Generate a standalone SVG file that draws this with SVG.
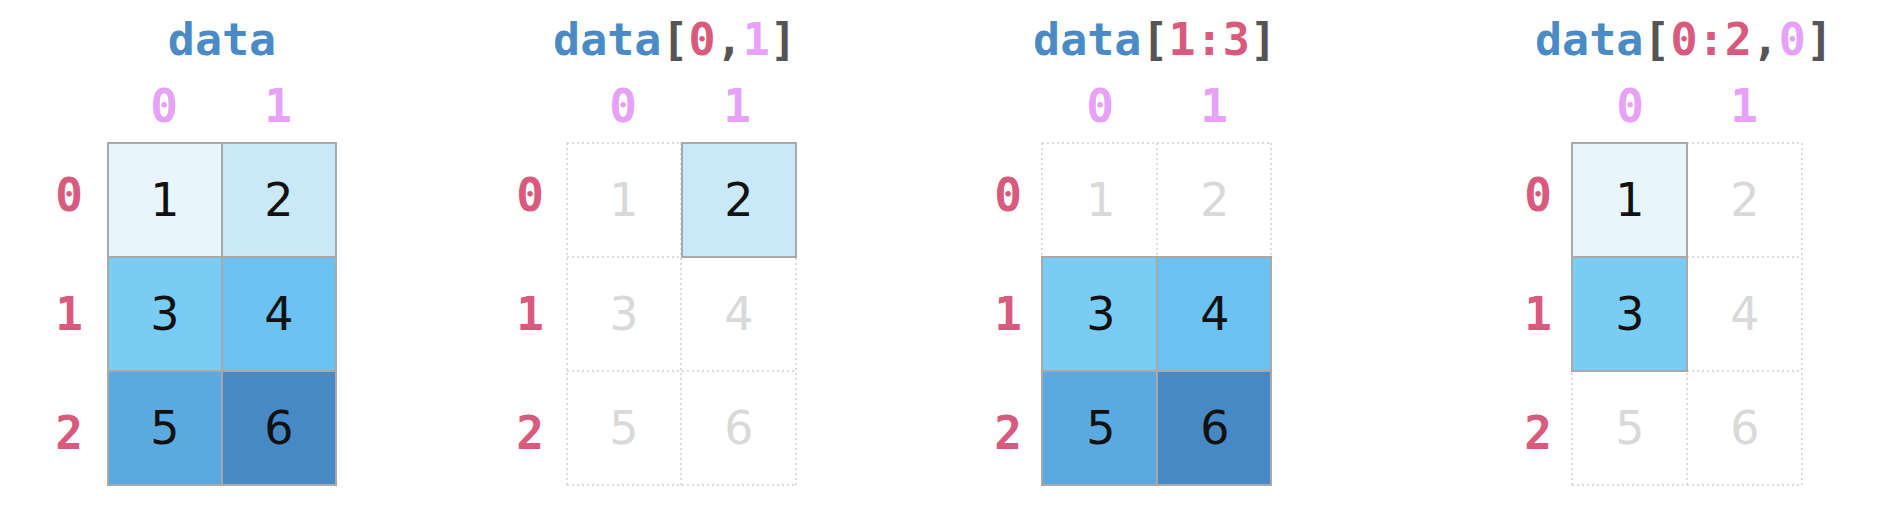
<svg xmlns="http://www.w3.org/2000/svg" width="1888" height="508" viewBox="0 0 1888 508">
<style>
.title{font-family:"DejaVu Sans Mono","Liberation Mono",monospace;font-weight:bold;font-size:45px;text-anchor:middle}
.kw{fill:#4a8bc5}
.br{fill:#555555}
.ri{fill:#d85a7e}
.ci{fill:#e6a2f6}
.idx{font-family:"DejaVu Sans Mono","Liberation Mono",monospace;font-weight:bold;font-size:46px;text-anchor:middle}
.num{font-family:"DejaVu Sans","Liberation Sans",sans-serif;font-size:46px;text-anchor:middle;fill:#111111}
.fade{fill:#d9d9d9}
.cell{stroke:#a9a9a9;stroke-width:2}
.dot{fill:none;stroke:#cfcfcf;stroke-width:1.5;stroke-dasharray:2 3}
.c1{fill:#e8f5fc}.c2{fill:#c9e8f8}.c3{fill:#79ccf3}.c4{fill:#6bc2f1}.c5{fill:#5aaae1}.c6{fill:#4689c4}
</style>

<g id="panel-data">
  <text class="title" x="222" y="55"><tspan class="kw">data</tspan></text>
  <text class="idx ci" x="164" y="122">0</text>
  <text class="idx ci" x="278" y="122">1</text>
  <text class="idx ri" x="69" y="211">0</text>
  <text class="idx ri" x="69" y="330">1</text>
  <text class="idx ri" x="69" y="449">2</text>
  <rect class="cell c1" x="108" y="143" width="114" height="114"/>
  <rect class="cell c2" x="222" y="143" width="114" height="114"/>
  <rect class="cell c3" x="108" y="257" width="114" height="114"/>
  <rect class="cell c4" x="222" y="257" width="114" height="114"/>
  <rect class="cell c5" x="108" y="371" width="114" height="114"/>
  <rect class="cell c6" x="222" y="371" width="114" height="114"/>
  <text class="num" x="165" y="216">1</text>
  <text class="num" x="279" y="216">2</text>
  <text class="num" x="165" y="330">3</text>
  <text class="num" x="279" y="330">4</text>
  <text class="num" x="165" y="444">5</text>
  <text class="num" x="279" y="444">6</text>
</g>

<g id="panel-index-0-1">
  <text class="title" x="675" y="55"><tspan class="kw">data</tspan><tspan class="br">[</tspan><tspan class="ri">0</tspan><tspan class="br">,</tspan><tspan class="ci">1</tspan><tspan class="br">]</tspan></text>
  <text class="idx ci" x="623" y="122">0</text>
  <text class="idx ci" x="737" y="122">1</text>
  <text class="idx ri" x="530" y="211">0</text>
  <text class="idx ri" x="530" y="330">1</text>
  <text class="idx ri" x="530" y="449">2</text>
  <path class="dot" d="M567 143H796M567 257H796M567 371H796M567 485H796M567 143V485M681 143V485M796 143V485"/>
  <rect class="cell c2" x="682" y="143" width="114" height="114"/>
  <text class="num fade" x="624" y="216">1</text>
  <text class="num" x="739" y="216">2</text>
  <text class="num fade" x="624" y="330">3</text>
  <text class="num fade" x="739" y="330">4</text>
  <text class="num fade" x="624" y="444">5</text>
  <text class="num fade" x="739" y="444">6</text>
</g>

<g id="panel-slice-1-3">
  <text class="title" x="1155" y="55"><tspan class="kw">data</tspan><tspan class="br">[</tspan><tspan class="ri">1:3</tspan><tspan class="br">]</tspan></text>
  <text class="idx ci" x="1100" y="122">0</text>
  <text class="idx ci" x="1214" y="122">1</text>
  <text class="idx ri" x="1008" y="211">0</text>
  <text class="idx ri" x="1008" y="330">1</text>
  <text class="idx ri" x="1008" y="449">2</text>
  <path class="dot" d="M1042 143H1271M1042 143V257M1157 143V257M1271 143V257"/>
  <rect class="cell c3" x="1042" y="257" width="115" height="114"/>
  <rect class="cell c4" x="1157" y="257" width="114" height="114"/>
  <rect class="cell c5" x="1042" y="371" width="115" height="114"/>
  <rect class="cell c6" x="1157" y="371" width="114" height="114"/>
  <text class="num fade" x="1101" y="216">1</text>
  <text class="num fade" x="1215" y="216">2</text>
  <text class="num" x="1101" y="330">3</text>
  <text class="num" x="1215" y="330">4</text>
  <text class="num" x="1101" y="444">5</text>
  <text class="num" x="1215" y="444">6</text>
</g>

<g id="panel-slice-0-2-0">
  <text class="title" x="1684" y="55"><tspan class="kw">data</tspan><tspan class="br">[</tspan><tspan class="ri">0:2</tspan><tspan class="br">,</tspan><tspan class="ci">0</tspan><tspan class="br">]</tspan></text>
  <text class="idx ci" x="1630" y="122">0</text>
  <text class="idx ci" x="1744" y="122">1</text>
  <text class="idx ri" x="1538" y="211">0</text>
  <text class="idx ri" x="1538" y="330">1</text>
  <text class="idx ri" x="1538" y="449">2</text>
  <path class="dot" d="M1572 143H1802M1572 257H1802M1572 371H1802M1572 485H1802M1572 143V485M1687 143V485M1802 143V485"/>
  <rect class="cell c1" x="1572" y="143" width="115" height="114"/>
  <rect class="cell c3" x="1572" y="257" width="115" height="114"/>
  <text class="num" x="1630" y="216">1</text>
  <text class="num fade" x="1745" y="216">2</text>
  <text class="num" x="1630" y="330">3</text>
  <text class="num fade" x="1745" y="330">4</text>
  <text class="num fade" x="1630" y="444">5</text>
  <text class="num fade" x="1745" y="444">6</text>
</g>
</svg>
